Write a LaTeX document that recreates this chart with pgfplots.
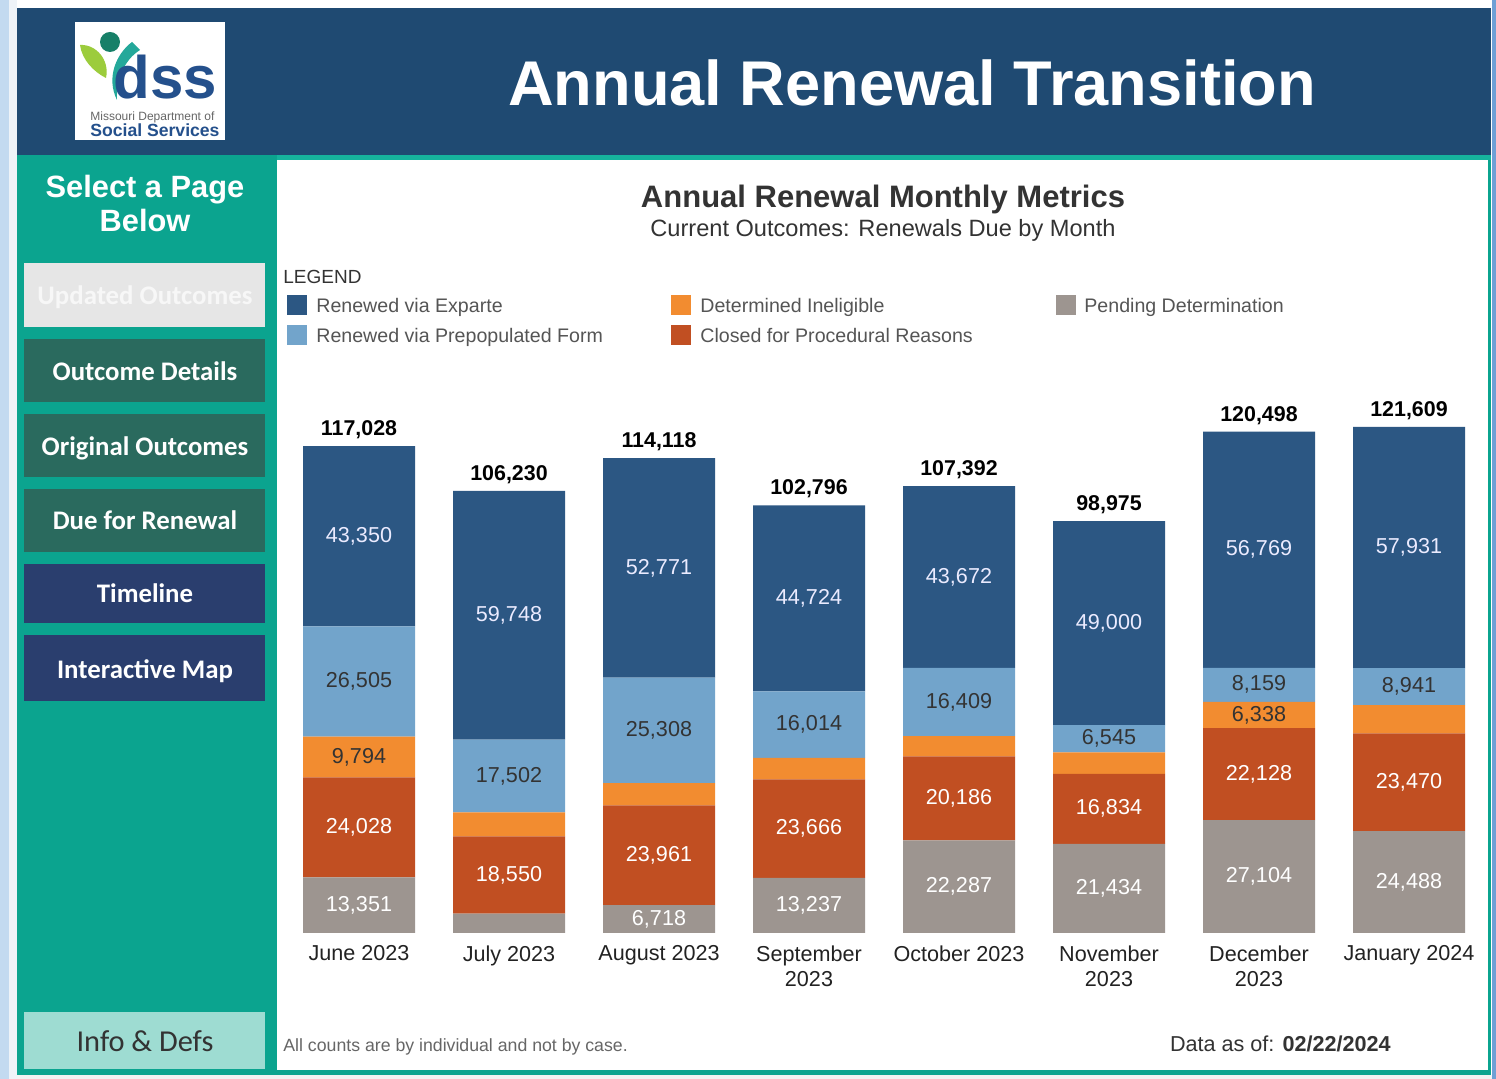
\documentclass[border=0pt]{standalone}
\usepackage{pgfplots}
\pgfplotsset{compat=1.18}
\usepackage{fontspec}
\setmainfont{Liberation Sans}
\newfontfamily\carlito{Carlito}
\definecolor{navyhead}{HTML}{1F4A72}
\definecolor{sideteal}{HTML}{0BA48F}
\definecolor{stripteal}{HTML}{16B39D}
\definecolor{btnteal}{HTML}{2A6A5E}
\definecolor{btnnavy}{HTML}{2A3E6E}
\definecolor{btninfo}{HTML}{9EDCD2}
\definecolor{btngray}{HTML}{E6E6E6}
\definecolor{edgeL}{HTML}{C3DAF0}
\definecolor{edgeLL}{HTML}{EEF3F8}
\definecolor{edgeR}{HTML}{6FA0D5}
\definecolor{botgray}{HTML}{F2F2F2}
\definecolor{expc}{HTML}{2C5783}
\definecolor{prec}{HTML}{72A4CB}
\definecolor{inelc}{HTML}{F28C30}
\definecolor{cloc}{HTML}{C14F22}
\definecolor{penc}{HTML}{9D9590}
\definecolor{darktxt}{HTML}{333333}
\definecolor{legtxt}{HTML}{555555}
\definecolor{tickc}{HTML}{222222}
\definecolor{footc}{HTML}{666666}
\definecolor{logonavy}{HTML}{24508C}
\definecolor{logohead}{HTML}{178068}
\definecolor{logoteal}{HTML}{24A89A}
\definecolor{logogreen}{HTML}{9CCC3C}
\pgfplotsset{
  chartgeom/.style={
    at={(142pt,-466.5pt)}, anchor=south west,
    scale only axis, width=600pt, height=266.3pt,
    xmin=-0.5, xmax=7.5, ymin=0, ymax=128000, clip=false},
  lbl/.style={only marks, mark=*, mark size=0pt, mark options={draw=none, fill=none},
    nodes near coords, point meta=explicit symbolic,
    every node near coord/.append style={anchor=center, font=\fontsize{10.8}{12}\selectfont, text=#1}},
}
\begin{document}
\begin{tikzpicture}
\begin{scope}[x=0.5pt,y=-0.5pt]
% background frame
\fill[white] (0,0) rectangle (1496,1079);
\fill[edgeL] (0,0) rectangle (9,1079);
\fill[edgeLL] (9,0) rectangle (17,1079);
\fill[edgeR] (1492,0) rectangle (1496,1079);
\fill[botgray] (17,1075) rectangle (1492,1079);
\fill[navyhead] (17,8) rectangle (1491,155);
\fill[sideteal] (17,155) rectangle (277,1075);
\fill[sideteal] (277,1070) rectangle (1491,1075);
\fill[sideteal] (1488,155) rectangle (1491,1075);
\fill[stripteal] (277,155) rectangle (1491,160);
\fill[white] (277,160) rectangle (1488,1070);
% logo
\fill[white] (75,22) rectangle (225,140);
\fill[logogreen] (80,45) .. controls (96,44) and (110,60) .. (106,78) .. controls (94,72) and (82,60) .. cycle;
\fill[logoteal] (132,42) .. controls (116,54) and (106,78) .. (117,100) .. controls (116,80) and (124,60) .. (140,50) -- cycle;
\fill[logohead] (110,42) circle (10);
\node[anchor=base west, inner sep=0pt, text=logonavy, font=\bfseries\fontsize{30}{32}\selectfont] at (113,99) {dss};
\node[anchor=base west, inner sep=0pt, text=footc, font=\fontsize{6}{7}\selectfont] at (90,121) {Missouri Department of};
\node[anchor=base west, inner sep=0pt, text=logonavy, font=\bfseries\fontsize{8.8}{10}\selectfont] at (90,137) {Social Services};
% header title
\node[anchor=base, inner sep=0pt, text=white, font=\bfseries\fontsize{31.6}{36}\selectfont] at (912,106) {Annual Renewal Transition};
% sidebar
\node[anchor=base, inner sep=0pt, text=white, font=\bfseries\fontsize{15.4}{18}\selectfont] at (145,198) {Select a Page};
\node[anchor=base, inner sep=0pt, text=white, font=\bfseries\fontsize{15.4}{18}\selectfont] at (145,232) {Below};
\fill[btngray] (24,263) rectangle (265,327);
\fill[btnteal] (24,339) rectangle (265,402);
\fill[btnteal] (24,414) rectangle (265,477);
\fill[btnteal] (24,489) rectangle (265,552);
\fill[btnnavy] (24,564) rectangle (265,623);
\fill[btnnavy] (24,635) rectangle (265,701);
\fill[btninfo] (24,1012) rectangle (265,1069);
\begin{scope}[every node/.style={anchor=base, inner sep=0pt, font=\carlito\bfseries\fontsize{13.4}{16}\selectfont}]
\node[text=white!97!black] at (145,305) {Updated Outcomes};
\node[text=white] at (145,381) {Outcome Details};
\node[text=white] at (145,456) {Original Outcomes};
\node[text=white] at (145,530) {Due for Renewal};
\node[text=white] at (145,603) {Timeline};
\node[text=white] at (145,679) {Interactive Map};
\end{scope}
\node[anchor=base, inner sep=0pt, text=darktxt, font=\carlito\fontsize{15.2}{18}\selectfont] at (145,1052) {Info \& Defs};
% chart titles
\node[anchor=base, inner sep=0pt, text=darktxt, font=\bfseries\fontsize{15.5}{18}\selectfont] at (883,208) {Annual Renewal Monthly Metrics};
\node[anchor=base, inner sep=0pt, text=darktxt, font=\fontsize{11.8}{14}\selectfont] at (883,237) {Current Outcomes: Renewals Due by Month};
% legend
\node[anchor=base west, inner sep=0pt, text=darktxt, font=\fontsize{9.5}{11}\selectfont] at (283,284) {LEGEND};
\begin{scope}[every node/.style={anchor=base west, inner sep=0pt, text=legtxt, font=\fontsize{9.8}{12}\selectfont}]
\fill[expc] (287,295) rectangle (307,315);
\node at (316,313) {Renewed via Exparte};
\fill[prec] (287,325) rectangle (307,345);
\node at (316,343) {Renewed via Prepopulated Form};
\fill[inelc] (671,295) rectangle (691,315);
\node at (700,313) {Determined Ineligible};
\fill[cloc] (671,325) rectangle (691,345);
\node at (700,343) {Closed for Procedural Reasons};
\fill[penc] (1056,295) rectangle (1076,315);
\node at (1084,313) {Pending Determination};
\end{scope}
% footer
\node[anchor=base west, inner sep=0pt, text=footc, font=\fontsize{8.85}{11}\selectfont] at (283,1052) {All counts are by individual and not by case.};
\node[anchor=base east, inner sep=0pt, text=darktxt, font=\fontsize{10.8}{13}\selectfont] at (1391,1052) {Data as of: \textbf{02/22/2024}};
\end{scope}
% stacked bars
\begin{axis}[
  chartgeom,
  ybar stacked, bar width=56pt,
  axis line style={draw=none}, major tick length=0pt,
  ytick=\empty, scaled y ticks=false,
  xtick={0,1,2,3,4,5,6,7},
  xticklabels={June 2023, July 2023, August 2023, {September\\2023}, October 2023, {November\\2023}, {December\\2023}, January 2024},
  xticklabel style={align=center, font=\fontsize{10.8}{12.5}\selectfont, text=tickc, yshift=-2.8pt},
]
% Pending Determination
\addplot[fill=penc, draw=none] coordinates {
 (0,13351) (1,4680) (2,6718) (3,13237) (4,22287) (5,21434) (6,27104) (7,24488)};
% Closed for Procedural Reasons
\addplot[fill=cloc, draw=none] coordinates {
 (0,24028) (1,18550) (2,23961) (3,23666) (4,20186) (5,16834) (6,22128) (7,23470)};
% Determined Ineligible
\addplot[fill=inelc, draw=none] coordinates {
 (0,9794) (1,5750) (2,5360) (3,5155) (4,4838) (5,5162) (6,6338) (7,6779)};
% Renewed via Prepopulated Form
\addplot[fill=prec, draw=none] coordinates {
 (0,26505) (1,17502) (2,25308) (3,16014) (4,16409) (5,6545) (6,8159) (7,8941)};
% Renewed via Exparte
\addplot[fill=expc, draw=none] coordinates {
 (0,43350) (1,59748) (2,52771) (3,44724) (4,43672) (5,49000) (6,56769) (7,57931)};
\end{axis}
% value labels (segment centres and totals)
\begin{axis}[chartgeom, hide axis]
\addplot[lbl=white] coordinates {
 (0,6675.5) [13,351] (2,3359) [6,718] (3,6618.5) [13,237]
 (4,11143.5) [22,287] (5,10717) [21,434] (6,13552) [27,104] (7,12244) [24,488]};
\addplot[lbl=white] coordinates {
 (0,25365) [24,028] (1,13955) [18,550] (2,18698.5) [23,961] (3,25070) [23,666]
 (4,32380) [20,186] (5,29851) [16,834] (6,38168) [22,128] (7,36223) [23,470]};
\addplot[lbl=darktxt] coordinates {
 (0,42276) [9,794] (6,52401) [6,338]};
\addplot[lbl=darktxt] coordinates {
 (0,60425.5) [26,505] (1,37731) [17,502] (2,48693) [25,308] (3,50065) [16,014]
 (4,55515.5) [16,409] (5,46702.5) [6,545] (6,59649.5) [8,159] (7,59207.5) [8,941]};
\addplot[lbl=white!92!blue] coordinates {
 (0,95353) [43,350] (1,76356) [59,748] (2,87732.5) [52,771] (3,80434) [44,724]
 (4,85556) [43,672] (5,74475) [49,000] (6,92113.5) [56,769] (7,92643.5) [57,931]};
\addplot[lbl=black, every node near coord/.append style={anchor=south, font=\bfseries\fontsize{10.7}{12}\selectfont}] coordinates {
 (0,117028) [117,028] (1,106230) [106,230] (2,114118) [114,118] (3,102796) [102,796]
 (4,107392) [107,392] (5,98975) [98,975] (6,120498) [120,498] (7,121609) [121,609]};
\end{axis}
\end{tikzpicture}
\end{document}
